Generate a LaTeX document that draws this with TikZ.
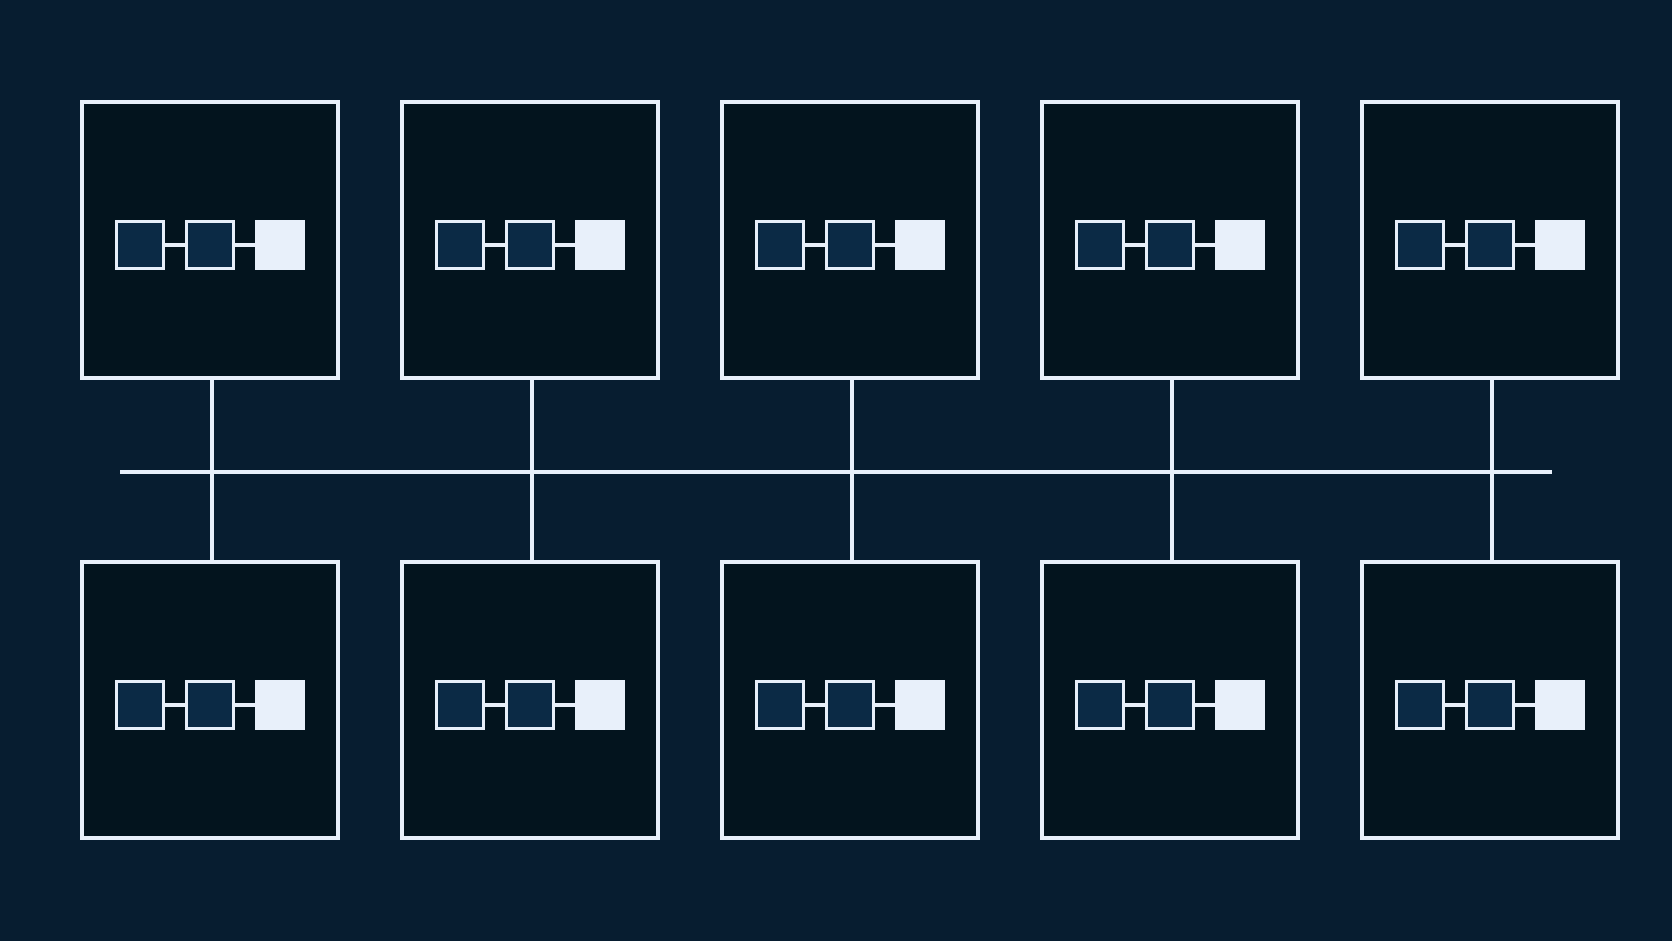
\documentclass[tikz,border=0pt]{standalone}
\usepackage{xcolor}
\usepackage{tikz}
\usetikzlibrary{positioning}
\definecolor{bgnavy}{HTML}{071D30}
\definecolor{hostfill}{HTML}{03141E}
\definecolor{cellnavy}{HTML}{0B2A45}
\definecolor{paleline}{HTML}{E8F0FA}
\tikzset{
host/.style={draw=paleline, fill=hostfill, line width=2pt, minimum width=128pt, minimum height=138pt, inner sep=0pt},
cell/.style={draw=paleline, fill=cellnavy, line width=1.5pt, minimum size=23.5pt, inner sep=0pt},
litcell/.style={cell, fill=paleline},
wire/.style={draw=paleline, line width=2pt}
}

\begin{document}
\begin{tikzpicture}[x=1pt, y=-1pt, node distance=10pt]
  \fill[bgnavy] (0,0) rectangle (836,470.5);
  \useasboundingbox (0,0) rectangle (836,470.5);
  % shared bus
  \coordinate (busL) at (60,236);
  \coordinate (busR) at (776,236);
  \draw[wire] (busL) -- (busR);
  \foreach \k in {1,...,5} {
    \node[host] (t\k) at ({105+160*(\k-1)},120) {};
    \node[host] (b\k) at ({105+160*(\k-1)},350) {};
    \draw[wire] ([xshift=1pt]t\k.south) -- ([xshift=1pt]b\k.north);
    \foreach \r in {t,b} {
      \node[cell] (\r\k m) at ([yshift=-2.5pt]\r\k.center) {};
      \node[cell, left=of \r\k m] (\r\k l) {};
      \node[litcell, right=of \r\k m] (\r\k r) {};
      \draw[wire] (\r\k l) -- (\r\k m) (\r\k m) -- (\r\k r);
    }
  }
\end{tikzpicture}
\end{document}
